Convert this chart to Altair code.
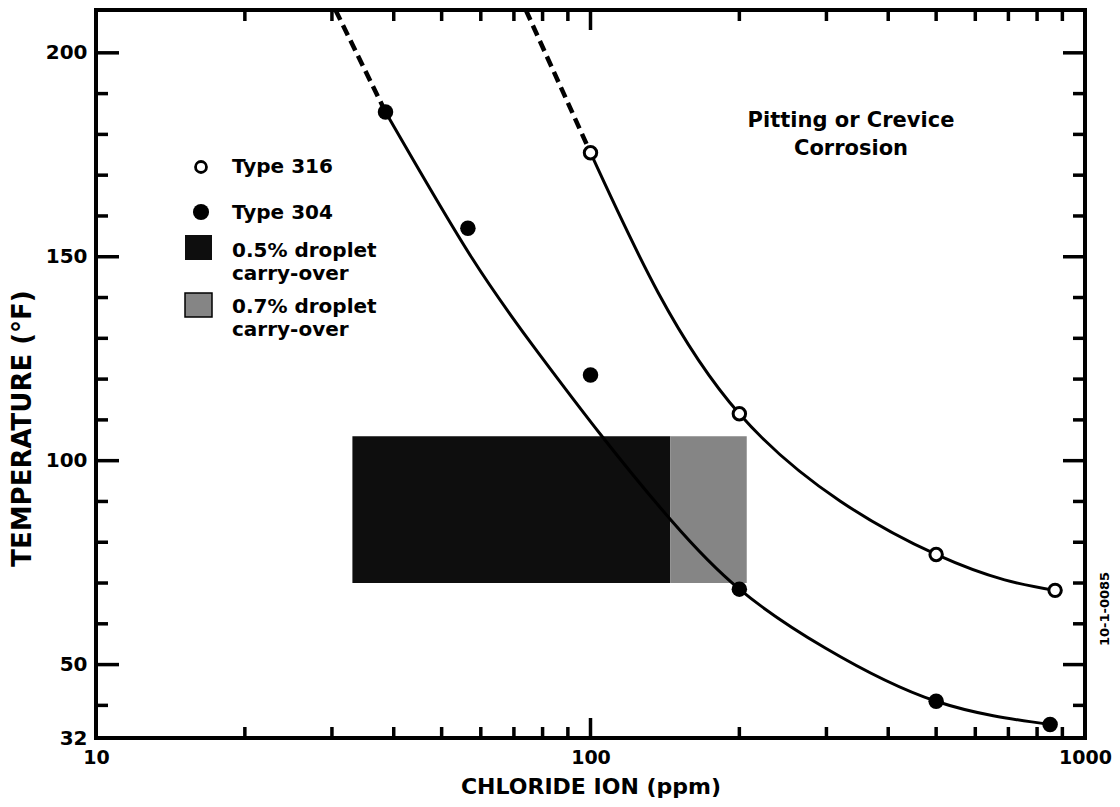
import altair as alt
import pandas as pd

# ---------------- data ----------------
# measured points
t304_ppm = [38.5, 56.5, 100, 200, 500, 850]
t304_temp = [185.5, 157, 121, 68.5, 41, 35.3]
t316_ppm = [100, 200, 500, 870]
t316_temp = [175.5, 111.5, 77, 68.2]

# fitted curves (solid) and extrapolations (dashed)
c304_dash_ppm = [30.5, 38.5]
c304_dash_temp = [210.5, 185.5]
c304_ppm = [38.5, 57.5, 78.7, 105, 146, 200, 299, 500, 850]
c304_temp = [185.5, 149.8, 126.2, 106.3, 85.2, 68.5, 54, 41, 35.3]

c316_dash_ppm = [74, 100]
c316_dash_temp = [210.5, 175.5]
c316_ppm = [100, 200, 500, 870]
c316_temp = [175.5, 111.5, 77, 68.2]

# droplet carry-over boxes
box_labels = ["0.5% droplet carry-over", "0.7% droplet carry-over"]
box_ppm_lo = [33, 145]
box_ppm_hi = [145, 207]
box_temp_lo = [70, 70]
box_temp_hi = [106, 106]

# axes
x_labels = [10, 100, 1000]
x_minor = [20, 30, 40, 50, 60, 70, 80, 90, 200, 300, 400, 500, 600, 700, 800, 900]
x_major_inner = [100]
y_labels = [32, 50, 100, 150, 200]
y_major = [50, 100, 150, 200]
y_minor = [40, 60, 70, 80, 90, 110, 120, 130, 140, 160, 170, 180, 190]

W, H = 989, 728
FONT = "DejaVu Sans"
DARK = "#0e0e0e"
GREY = "#858585"

xscale = alt.Scale(type="log", domain=[10, 1000], nice=False)
yscale = alt.Scale(domain=[32, 210.5], nice=False, zero=False)

X = alt.X(
    "ppm:Q", scale=xscale,
    axis=alt.Axis(values=x_labels, labelExpr="format(datum.value, 'd')",
                  ticks=False, domain=False, grid=False, labelFlush=False,
                  labelOverlap=False, labelFont=FONT, labelFontSize=19,
                  labelFontWeight="bold", labelColor="black", labelPadding=10,
                  title="CHLORIDE ION (ppm)", titleFont=FONT, titleFontSize=22,
                  titleFontWeight="bold", titleColor="black", titlePadding=9),
)
Y = alt.Y(
    "temp:Q", scale=yscale,
    axis=alt.Axis(values=y_labels, ticks=False, domain=False, grid=False,
                  labelFlush=False, labelOverlap=False, labelFont=FONT,
                  labelFontSize=20, labelFontWeight="bold", labelColor="black",
                  labelPadding=9, title="TEMPERATURE (°F)", titleFont=FONT,
                  titleFontSize=26, titleFontWeight="bold", titleColor="black",
                  titlePadding=10, titleY=418),
)
X2 = alt.X2("ppm2:Q")
Y2 = alt.Y2("temp2:Q")

boxes = pd.DataFrame({"label": box_labels, "ppm": box_ppm_lo, "ppm2": box_ppm_hi,
                      "temp": box_temp_lo, "temp2": box_temp_hi})
box_layer = alt.Chart(boxes).mark_rect(stroke=None).encode(
    x=X, x2=X2, y=Y, y2=Y2,
    color=alt.Color("label:N", scale=alt.Scale(domain=box_labels, range=[DARK, GREY]), legend=None),
)

def line(ppm, temp, dash=None, width=3):
    df = pd.DataFrame({"ppm": ppm, "temp": temp})
    kw = dict(color="black", strokeWidth=width, interpolate="natural")
    if dash:
        kw["strokeDash"] = dash
        kw["interpolate"] = "linear"
    return alt.Chart(df).mark_line(**kw).encode(x=X, y=Y)

lines = [
    line(c304_dash_ppm, c304_dash_temp, dash=[11, 6], width=4.5),
    line(c304_ppm, c304_temp),
    line(c316_dash_ppm, c316_dash_temp, dash=[11, 6], width=4.5),
    line(c316_ppm, c316_temp),
]

p304 = alt.Chart(pd.DataFrame({"ppm": t304_ppm, "temp": t304_temp})).mark_circle(
    size=240, color="black", opacity=1).encode(x=X, y=Y)
p316 = alt.Chart(pd.DataFrame({"ppm": t316_ppm, "temp": t316_temp})).mark_point(
    shape="circle", size=155, filled=True, fill="white", stroke="black",
    strokeWidth=3, opacity=1).encode(x=X, y=Y)

# inward ticks on all four sides
def xticks(vals, length, top):
    df = pd.DataFrame({"ppm": vals})
    y0, y1 = (0, length) if top else (H - length, H)
    return alt.Chart(df).mark_rule(color="black", strokeWidth=3.5).encode(
        x=X, y=alt.value(y0), y2=alt.value(y1))

def yticks(vals, length, right):
    df = pd.DataFrame({"temp": vals})
    x0, x1 = (W - length, W) if right else (0, length)
    return alt.Chart(df).mark_rule(color="black", strokeWidth=3.5).encode(
        y=Y, x=alt.value(x0), x2=alt.value(x1))

ticks = [
    xticks(x_minor, 11, False), xticks(x_minor, 11, True),
    xticks(x_major_inner, 20, False), xticks(x_major_inner, 20, True),
    yticks(y_minor, 12, False), yticks(y_minor, 12, True),
    yticks(y_major, 23, False), yticks(y_major, 22, True),
]

# legend drawn by hand
leg_open = alt.Chart(pd.DataFrame({"k": ["Type 316"]})).mark_point(
    shape="circle", size=120, filled=True, fill="white", stroke="black",
    strokeWidth=2.8, opacity=1).encode(x=alt.value(105), y=alt.value(157))
leg_fill = alt.Chart(pd.DataFrame({"k": ["Type 304"]})).mark_circle(
    size=260, color="black", opacity=1).encode(x=alt.value(105), y=alt.value(202))
leg_box1 = alt.Chart(pd.DataFrame({"k": [box_labels[0]]})).mark_rect(color=DARK).encode(
    x=alt.value(89), x2=alt.value(116), y=alt.value(225), y2=alt.value(250))
leg_box2 = alt.Chart(pd.DataFrame({"k": [box_labels[1]]})).mark_rect(
    color=GREY, stroke="black", strokeWidth=1.5).encode(
    x=alt.value(89), x2=alt.value(116), y=alt.value(283), y2=alt.value(307))

def txt(text, x, y, size=20, align="left", angle=0, baseline="alphabetic", lh=None):
    kw = dict(font=FONT, fontSize=size, fontWeight="bold", color="black",
              align=align, baseline=baseline, angle=angle)
    if lh:
        kw["lineHeight"] = lh
    return alt.Chart(pd.DataFrame({"t": [text]})).mark_text(**kw).encode(
        text="t:N", x=alt.value(x), y=alt.value(y))

texts = [
    txt("Type 316", 136, 163),
    txt("Type 304", 136, 209),
    txt(["0.5% droplet", "carry-over"], 136, 247, lh=23),
    txt(["0.7% droplet", "carry-over"], 136, 303, lh=23),
    txt(["Pitting or Crevice", "Corrosion"], 755, 117, size=21, align="center", lh=28),
    txt("10-1-0085", 1009, 599, size=13, align="center", angle=270, baseline="middle"),
]

chart = alt.layer(
    box_layer, *lines, p304, p316, *ticks,
    leg_open, leg_fill, leg_box1, leg_box2, *texts,
).properties(
    width=W, height=H,
    autosize=alt.AutoSizeParams(type="none"),
    padding={"left": 88, "top": 2, "right": 27, "bottom": 60},
    background="white",
).configure_view(stroke="black", strokeWidth=4)

chart.save("out.html", embed_options={"renderer": "svg", "actions": False})
